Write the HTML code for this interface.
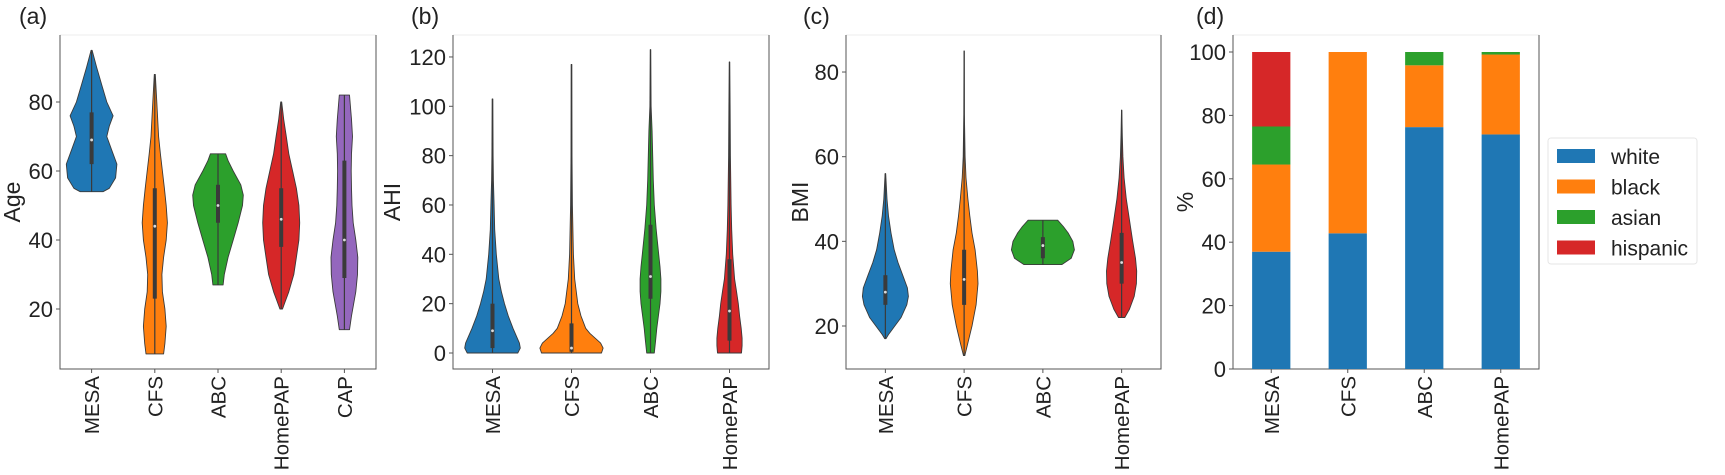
<!DOCTYPE html>
<html><head><meta charset="utf-8"><style>
html,body{margin:0;padding:0;background:#fff;}
svg{display:block;font-family:"Liberation Sans","DejaVu Sans",sans-serif;}
</style></head><body>
<svg id="fig" width="1725" height="475" viewBox="0 0 1725 475"></svg>
<script>
// ---- data ----
const catsA = ["MESA","CFS","ABC","HomePAP","CAP"];
const catsBCD = ["MESA","CFS","ABC","HomePAP"];
const colors = ["#1f77b4","#ff7f0e","#2ca02c","#d62728","#9467bd"];

const ageLevels = [
 [54,55,58,62,66,70,73,76,80,85,90,95],
 [7,10,15,20,25,30,35,40,45,50,55,60,65,70,80,88],
 [27,30,35,40,45,50,53,56,60,63,65],
 [20,22,25,30,35,40,45,50,55,60,65,70,75,80],
 [14,18,25,30,35,40,45,50,55,60,65,70,75,82]];
const ageWidths = [
 [0.45,0.7,0.95,1.0,0.8,0.6,0.7,0.85,0.6,0.4,0.2,0.02],
 [0.35,0.4,0.45,0.4,0.3,0.28,0.35,0.45,0.5,0.45,0.38,0.3,0.22,0.15,0.08,0.02],
 [0.2,0.25,0.4,0.6,0.8,0.97,1.0,0.9,0.6,0.4,0.3],
 [0.05,0.15,0.3,0.5,0.6,0.7,0.73,0.7,0.6,0.45,0.3,0.2,0.1,0.02],
 [0.2,0.28,0.45,0.52,0.53,0.45,0.35,0.3,0.28,0.27,0.28,0.32,0.28,0.2]];
const ageBox = [[62,69,77],[23,44,55],[45,50,56],[38,46,55],[29,40,63]];
const ageTicks = [20,40,60,80];

const ahiLevels = [
 [0,2,4,7,10,15,20,25,30,40,50,60,70,80,103],
 [0,2,4,6,8,10,15,20,30,40,60,80,117],
 [0,5,10,15,20,25,30,35,40,50,60,70,80,90,100,123],
 [0,3,6,10,15,20,25,30,40,50,60,80,100,118]];
const ahiWidths = [
 [0.8,0.88,0.85,0.75,0.65,0.5,0.38,0.28,0.2,0.12,0.07,0.05,0.03,0.02,0.01],
 [0.95,1.0,0.92,0.75,0.58,0.45,0.3,0.2,0.1,0.06,0.03,0.015,0.01],
 [0.12,0.16,0.2,0.25,0.3,0.33,0.33,0.3,0.26,0.18,0.12,0.09,0.07,0.05,0.02,0.005],
 [0.38,0.4,0.4,0.37,0.32,0.28,0.22,0.16,0.1,0.07,0.05,0.03,0.02,0.005]];
const ahiBox = [[2,9,20],[0.5,2,12],[22,31,52],[5,17,38]];
const ahiTicks = [0,20,40,60,80,100,120];

const bmiLevels = [
 [17,18,20,22,25,27,29,32,35,38,42,46,50,56],
 [13,16,20,25,30,33,38,42,46,50,55,60,70,85],
 [34.5,36,38,40,42,43.5,45],
 [22,24,27,30,33,36,40,45,50,55,60,65,71]];
const bmiWidths = [
 [0.02,0.1,0.3,0.5,0.68,0.73,0.7,0.55,0.4,0.28,0.18,0.1,0.05,0.01],
 [0.02,0.12,0.25,0.38,0.44,0.42,0.35,0.25,0.18,0.12,0.06,0.03,0.01,0.005],
 [0.6,0.9,1.0,0.95,0.8,0.65,0.47],
 [0.1,0.25,0.4,0.47,0.48,0.44,0.35,0.25,0.15,0.08,0.04,0.02,0.005]];
const bmiBox = [[25,28,32],[25,31,38],[36,39,41],[30,35,42]];
const bmiTicks = [20,40,60,80];

const raceNames = ["white","black","asian","hispanic"];
const white = [37,42.8,76.3,74];
const black = [27.5,57.2,19.5,25.2];
const asian = [12,0,4.2,0.8];
const hispanic = [23.5,0,0,0];
const pctTicks = [0,20,40,60,80,100];

// ---- drawing ----
const NS="http://www.w3.org/2000/svg";
const svg=document.getElementById('fig');
function mk(tag,attrs,parent){const e=document.createElementNS(NS,tag);for(const k in attrs)e.setAttribute(k,attrs[k]);(parent||svg).appendChild(e);return e;}

function panel(p){
  const g=mk('g',{});
  
  
  const t=mk('text',{x:p.tagX,y:24,'font-size':23,fill:'#222'},g);
  t.textContent='('+p.tag+')';
  
  
  const top=mk('line',{x1:p.l,x2:p.r,y1:p.t,y2:p.t,stroke:'#eeeeee','stroke-width':1},g);
  
  
  const sp=mk('path',{d:`M${p.l},${p.t}V${p.b}H${p.r}V${p.t}`,fill:'none',stroke:'#555','stroke-width':1},g);
  
  
  p.ticks.forEach(v=>{
    const y=p.y(v);
    const tk=mk('line',{x1:p.l-4,x2:p.l,y1:y,y2:y,stroke:'#555'},g);
    
    
    const tl=mk('text',{x:p.l-7,y:y+8,'font-size':22,'text-anchor':'end',fill:'#222'},g);
    tl.textContent=v;
    
    
  });
  const yl=mk('text',{x:p.ylx,y:(p.t+p.b)/2,'font-size':23,'text-anchor':'middle',fill:'#222',transform:`rotate(-90 ${p.ylx} ${(p.t+p.b)/2})`},g);
  yl.textContent=p.ylabel;
  
  
  const n=p.cats.length, step=(p.r-p.l)/n;
  p.x=i=>p.l+step*(i+0.5);
  p.step=step;
  p.cats.forEach((c,i)=>{
    const x=p.x(i);
    const tk=mk('line',{x1:x,x2:x,y1:p.b,y2:p.b+4,stroke:'#555'},g);
    
    
    const tl=mk('text',{x:x+7.5,y:p.b+7,'font-size':20.5,'text-anchor':'end',fill:'#222',transform:`rotate(-90 ${x+7.5} ${p.b+7})`},g);
    tl.textContent=c;
    
    
  });
  p.g=g;
  return p;
}

function violins(p,levels,widths,box){
  const half=p.step*0.4;
  levels.forEach((lv,i)=>{
    const cx=p.x(i), w=widths[i];
    let right=lv.map((v,k)=>[cx+w[k]*half,p.y(v)]);
    let left=lv.map((v,k)=>[cx-w[k]*half,p.y(v)]).reverse();
    const pts=right.concat(left).map(q=>q[0].toFixed(1)+','+q[1].toFixed(1)).join(' ');
    const poly=mk('polygon',{points:pts,fill:colors[i],stroke:'#3a3a3a','stroke-width':0.9,'stroke-linejoin':'round'},p.g);
    
    
    const wl=mk('line',{x1:cx,x2:cx,y1:p.y(lv[0]),y2:p.y(lv[lv.length-1]),stroke:'#3a3a3a','stroke-width':1.2},p.g);
    
    
    const bx=mk('line',{x1:cx,x2:cx,y1:p.y(box[i][0]),y2:p.y(box[i][2]),stroke:'#3a3a3a','stroke-width':4},p.g);
    
    
    const md=mk('circle',{cx:cx,cy:p.y(box[i][1]),r:1.4,fill:'#ddd'},p.g);
    
    
  });
}

const pa=panel({tag:'a',tagX:19,l:60,r:376,t:35,b:369,y:v=>309-(v-20)*3.45,ticks:ageTicks,cats:catsA,ylabel:'Age',ylx:20});
violins(pa,ageLevels,ageWidths,ageBox);
const pb=panel({tag:'b',tagX:411,l:453,r:769,t:35,b:369,y:v=>353-v*2.467,ticks:ahiTicks,cats:catsBCD,ylabel:'AHI',ylx:400});
violins(pb,ahiLevels,ahiWidths,ahiBox);
const pc=panel({tag:'c',tagX:803,l:846,r:1161,t:35,b:369,y:v=>326-(v-20)*4.233,ticks:bmiTicks,cats:catsBCD,ylabel:'BMI',ylx:808});
violins(pc,bmiLevels,bmiWidths,bmiBox);
const pd=panel({tag:'d',tagX:1196,l:1233,r:1539,t:35,b:369,y:v=>369-v*3.17,ticks:pctTicks,cats:catsBCD,ylabel:'%',ylx:1193});

const series=[white,black,asian,hispanic];
catsBCD.forEach((c,i)=>{
  let base=0;
  series.forEach((s,k)=>{
    const v=s[i];
    if(v>0){
      const y0=pd.y(base), y1=pd.y(base+v);
      const r=mk('rect',{x:pd.x(i)-pd.step*0.25,y:y1,width:pd.step*0.5,height:y0-y1,fill:colors[k]},pd.g);
      
      
    }
    base+=v;
  });
});

const lg=mk('g',{});


const lb=mk('rect',{x:1548,y:138,width:149,height:126,rx:3,fill:'#fff',stroke:'#e6e6e6'},lg);


raceNames.forEach((nm,k)=>{
  const y=156+k*30.5;
  const sw=mk('rect',{x:1557,y:y-7,width:38,height:14,fill:colors[k]},lg);
  
  
  const tx=mk('text',{x:1611,y:y+8,'font-size':21,fill:'#222'},lg);
  tx.textContent=nm;
  
  
});
</script>
</body></html>
